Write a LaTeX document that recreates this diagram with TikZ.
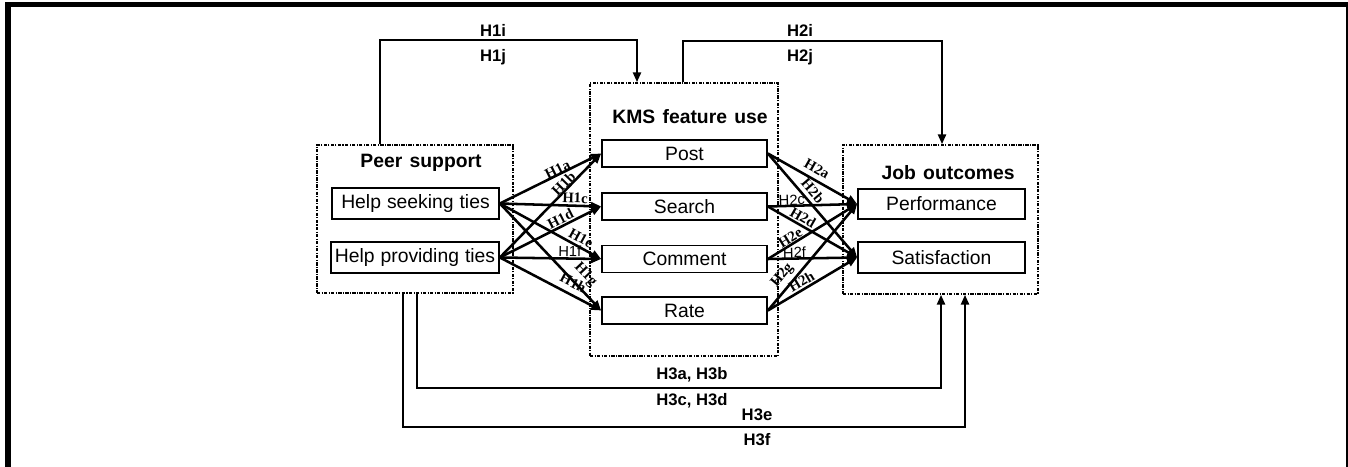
\documentclass[tikz,border=0pt]{standalone}
\usepackage{fontspec}
\setmainfont{Liberation Sans}
\newfontfamily\tms{Liberation Serif}
\usetikzlibrary{arrows.meta}
\newcommand{\wsp}{\hskip 5.5pt\relax}
\begin{document}
\begin{tikzpicture}[x=0.75pt,y=-0.75pt,
  frame/.style={draw, line width=1.1pt, dash pattern=on 2.5pt off 1pt on 0.8pt off 1pt, inner sep=0pt},
  itembox/.style={draw, line width=1.3pt, inner sep=0pt, font=\fontsize{14.5}{17}\selectfont},
  ttl/.style={font=\fontsize{14.5}{17}\selectfont\bfseries, inner sep=0pt},
  hlab/.style={font=\fontsize{12.5}{14}\selectfont\bfseries, inner sep=0pt},
  conn/.style={line width=1.9pt, -{Triangle[length=7.5pt,width=6pt]}},
  lab/.style={font=\fontsize{11}{12}\selectfont\tms\bfseries, inner sep=0pt, sloped},
  slab/.style={font=\fontsize{11}{12}\selectfont, inner sep=0pt, sloped}
]
\useasboundingbox (0,0) rectangle (1348,467);
% outer frame
\fill (5,2) rectangle (1348,7);
\fill (5,2) rectangle (11,467);
\fill (1346,2) rectangle (1348,467);

% group frames
\node[frame, minimum width=147pt, minimum height=111pt] (peer) at (415,219) {};
\node[frame, minimum width=141pt, minimum height=204.75pt] (kms) at (684,219.5) {};
\node[frame, minimum width=146.25pt, minimum height=111.75pt] (job) at (940.5,219.5) {};

% titles
\node[ttl] (peert) at (421,163) {Peer\wsp support};
\node[ttl] (kmst) at (690,117) {KMS\wsp feature\wsp use};
\node[ttl] (jobt) at (948,173) {Job\wsp outcomes};

% inner boxes
\node[itembox, minimum width=125.25pt, minimum height=23.25pt] (seek) at (415.5,203.5) {Help\hskip4.5pt seeking\hskip4.5pt ties};
\node[itembox, minimum width=126pt, minimum height=23.25pt] (prov) at (415,257.5) {Help\hskip4.5pt providing\hskip4.5pt ties};
\node[itembox, minimum width=123.75pt, minimum height=20.25pt] (post) at (684.5,153.5) {Post};
\node[itembox, minimum width=123.75pt, minimum height=20.25pt] (search) at (684.5,206.5) {Search};
\node[itembox, minimum width=123.75pt, minimum height=20.25pt] (comment) at (684.5,259) {Comment};
\node[itembox, minimum width=123.75pt, minimum height=20.25pt] (rate) at (684.5,310.5) {Rate};
\node[itembox, minimum width=125.25pt, minimum height=22.5pt] (perf) at (941.5,204) {Performance};
\node[itembox, minimum width=125.25pt, minimum height=23.25pt] (sat) at (941.5,257.5) {Satisfaction};

% left crossing arrows
\draw[conn] (seek.east) -- node[lab, pos=.59, above=-1.1pt] {H1a} (post.west);
\draw[conn] (prov.east) -- node[lab, pos=.67, above=-0.4pt] {H1b} (post.west);
\draw[conn] (seek.east) -- node[lab, pos=.74, above=1.1pt] {H1c} (search.west);
\draw[conn] (prov.east) -- node[lab, pos=.63, above=0.75pt] {H1d} (search.west);
\draw[conn] (seek.east) -- node[lab, pos=.76, above=1.9pt] {H1e} (comment.west);
\draw[conn] (prov.east) -- node[slab, pos=.69, above=0.4pt] {H1f} (comment.west);
\draw[conn] (seek.east) -- node[lab, pos=.75, above=4.1pt] {H1g} (rate.west);
\draw[conn] (prov.east) -- node[lab, pos=.67, above=4.1pt] {H1h} (rate.west);

% right crossing arrows
\draw[conn] (post.east) -- node[lab, pos=.49, above=3.4pt] {H2a} (perf.west);
\draw[conn] (post.east) -- node[lab, pos=.42, above=2.6pt] {H2b} (sat.west);
\draw[conn] (search.east) -- node[slab, pos=.27, above=-0.4pt] {H2c} (perf.west);
\draw[conn] (search.east) -- node[lab, pos=.35, above=1.1pt] {H2d} (sat.west);
\draw[conn] (comment.east) -- node[lab, pos=.29, above=0.4pt] {H2e} (perf.west);
\draw[conn] (comment.east) -- node[slab, pos=.30, above=-0.4pt] {H2f} (sat.west);
\draw[conn] (rate.east) -- node[lab, pos=.26, above=2.6pt] {H2g} (perf.west);
\draw[conn] (rate.east) -- node[lab, pos=.42, above=1.1pt] {H2h} (sat.west);

% top connectors
\coordinate (t1l) at (380,40);
\coordinate (t1r) at (637,40);
\coordinate (t2l) at (683,41);
\coordinate (t2r) at (942,41);
\draw[conn] (peer.north -| t1l) -- (t1l) -- (t1r) -- (kms.north -| t1r);
\draw[conn] (kms.north -| t2l) -- (t2l) -- (t2r) -- (job.north -| t2r);
\node[hlab] (l1i) at (493,30) {H1i};
\node[hlab] (l1j) at (493,57) {H1j};
\node[hlab] (l2i) at (800,30) {H2i};
\node[hlab] (l2j) at (800,57) {H2j};

% bottom connectors
\coordinate (b1l) at (417,388);
\coordinate (b1r) at (941,388);
\coordinate (b2l) at (403,427);
\coordinate (b2r) at (965,427);
\draw[conn] (peer.south -| b1l) -- (b1l) -- (b1r) -- (job.south -| b1r);
\draw[conn] (peer.south -| b2l) -- (b2l) -- (b2r) -- (job.south -| b2r);
\node[hlab] (l3ab) at (692,375) {H3a, H3b};
\node[hlab] (l3cd) at (692,401) {H3c, H3d};
\node[hlab] (l3e) at (757,415) {H3e};
\node[hlab] (l3f) at (757,440) {H3f};
\end{tikzpicture}
\end{document}
